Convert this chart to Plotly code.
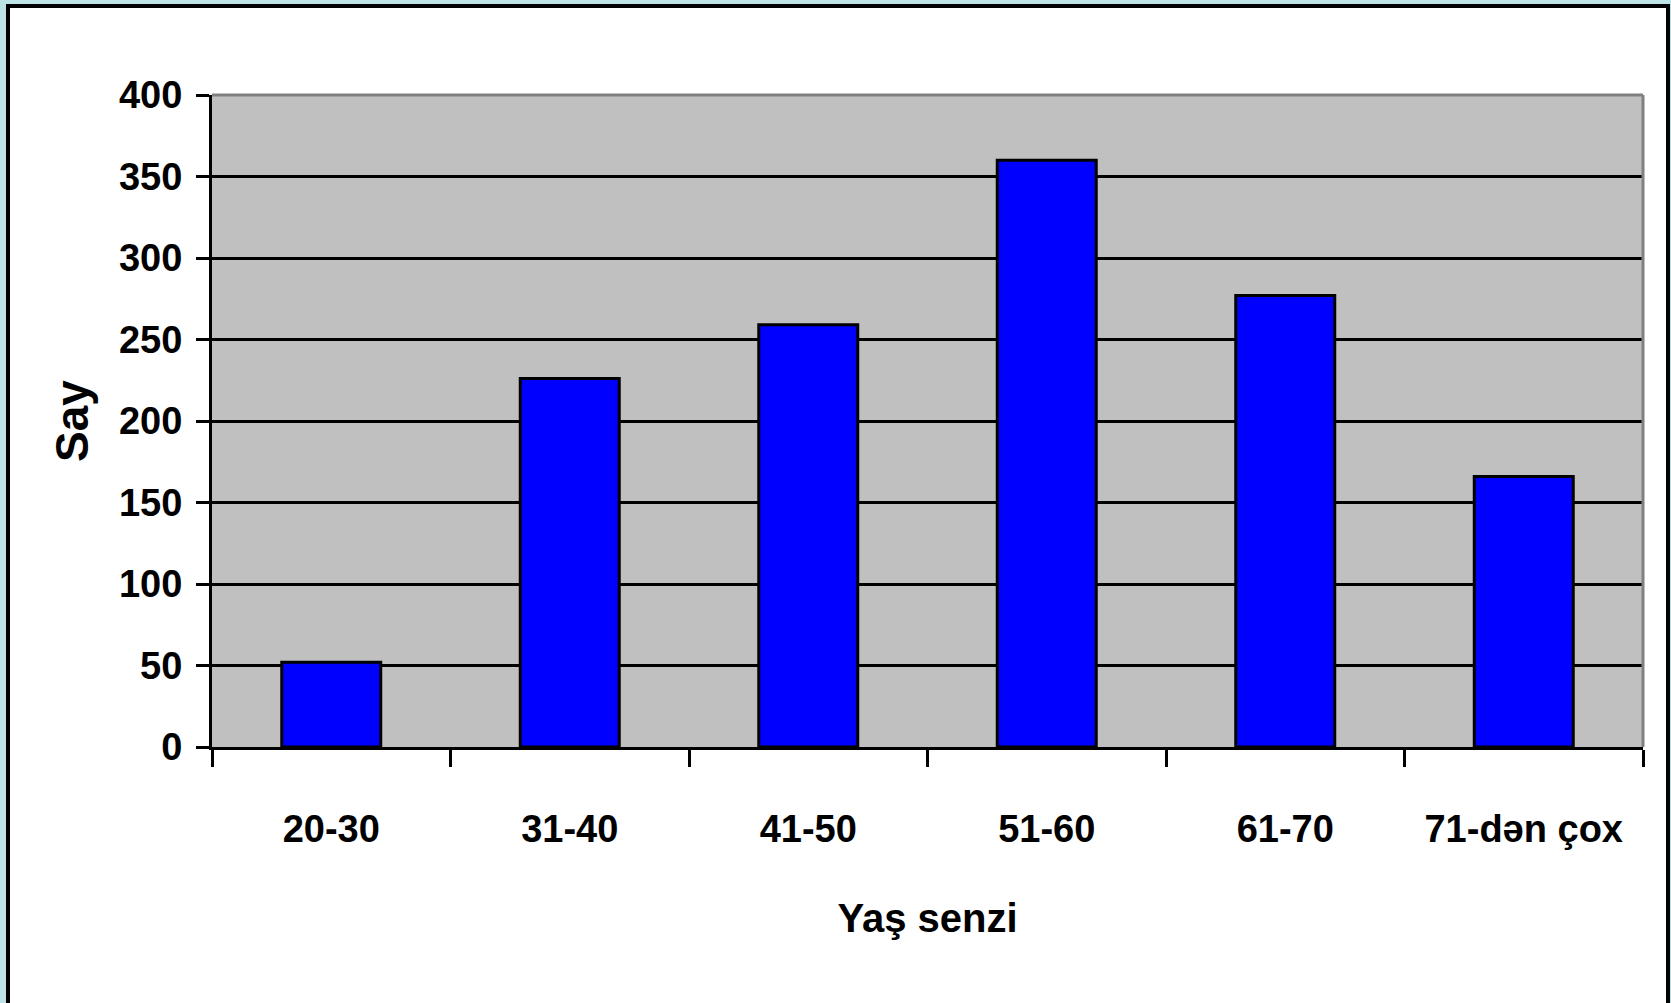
import plotly.graph_objects as go

categories = ["20-30", "31-40", "41-50", "51-60", "61-70", "71-dən çox"]
counts = [52, 226, 259, 360, 277, 166]
y_ticks = [0, 50, 100, 150, 200, 250, 300, 350, 400]

W, H = 1671, 1003
ML, MR, MT, MB = 212, 28, 95, 256
PW = W - ML - MR
PH = H - MT - MB

def px_x(p):
    return (p - ML) / PW

def px_y(p):
    return (H - MB - p) / PH

FONT = "Liberation Sans, Arial, sans-serif"
FS = 38

fig = go.Figure()
fig.add_trace(go.Bar(
    x=categories, y=counts,
    marker=dict(color="#0000FF", line=dict(color="#000000", width=3)),
    width=0.415,
))

fig.update_layout(
    width=W, height=H,
    margin=dict(l=ML, r=MR, t=MT, b=MB, autoexpand=False),
    paper_bgcolor="#BDE3E6",
    plot_bgcolor="#C0C0C0",
    showlegend=False,
    font=dict(family=FONT, size=FS, color="#000000", weight="bold"),
    shapes=[
        dict(type="rect", xref="paper", yref="paper", layer="below",
             x0=px_x(8), x1=px_x(1668), y0=px_y(1060), y1=px_y(6),
             fillcolor="#FFFFFF", line=dict(color="#000000", width=4)),
        dict(type="rect", xref="paper", yref="paper", layer="below",
             x0=0, x1=1, y0=0, y1=1, fillcolor="#C0C0C0", line=dict(width=0)),
        dict(type="line", xref="paper", yref="paper", layer="above",
             x0=0, x1=1, y0=1, y1=1, line=dict(color="#808080", width=3)),
        dict(type="line", xref="paper", yref="paper", layer="above",
             x0=1, x1=1, y0=0, y1=1, line=dict(color="#808080", width=3)),
    ],
)

fig.update_xaxes(
    type="category",
    tickson="boundaries",
    tickangle=0,
    ticks="outside", ticklen=17, tickwidth=3, tickcolor="#000000",
    showline=True, linecolor="#000000", linewidth=3,
    showgrid=False,
    tickfont=dict(family=FONT, size=FS, color="#000000", weight="bold"),
    ticklabelstandoff=46,
    title=dict(text="Yaş senzi", standoff=56,
               font=dict(family=FONT, size=40, color="#000000", weight="bold")),
)

fig.update_yaxes(
    range=[0, 400],
    tickvals=y_ticks,
    ticktext=[str(v) for v in y_ticks],
    ticks="outside", ticklen=13, tickwidth=3, tickcolor="#000000",
    showline=True, linecolor="#000000", linewidth=3,
    showgrid=True, gridcolor="#000000", gridwidth=3,
    zeroline=False,
    tickfont=dict(family=FONT, size=FS, color="#000000", weight="bold"),
    ticklabelstandoff=6,
    title=dict(text="Say", standoff=16,
               font=dict(family=FONT, size=46, color="#000000", weight="bold")),
)

fig.write_html(
    "out.html",
    config={"displayModeBar": False},
    post_script="document.body.style.margin='0';document.body.style.overflow='hidden';document.body.style.background='#BDE3E6';",
)
